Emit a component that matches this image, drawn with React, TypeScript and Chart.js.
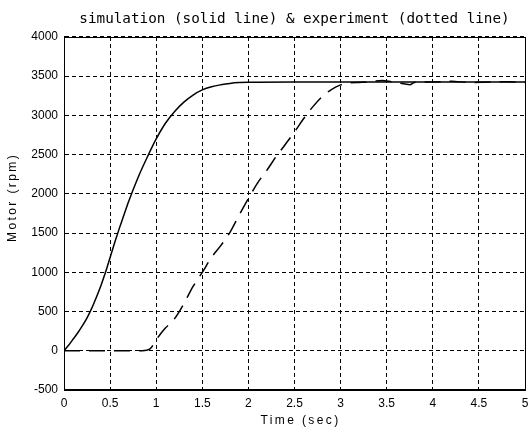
import React, { useEffect, useRef } from "react";
import { Chart, registerables } from "chart.js";

Chart.register(...registerables);

// ---- data ----
const simTime = [0, 0.05, 0.1, 0.15, 0.2, 0.25, 0.3, 0.35, 0.4, 0.45, 0.5, 0.55, 0.6, 0.65, 0.7, 0.8, 0.9, 1.0, 1.1, 1.2, 1.3, 1.4, 1.5, 1.6, 1.7, 1.8, 1.9, 2.0, 2.5, 3.0, 3.5, 4.0, 4.5, 5.0];
const simRpm = [0, 70, 150, 230, 320, 420, 540, 680, 830, 1000, 1190, 1380, 1560, 1730, 1900, 2200, 2460, 2700, 2900, 3050, 3170, 3260, 3325, 3365, 3390, 3408, 3418, 3422, 3425, 3425, 3425, 3425, 3425, 3425];

const expTime = [0, 0.85, 0.93, 1.0, 1.05, 1.1, 1.2, 1.3, 1.4, 1.5, 1.6, 1.7, 1.8, 1.9, 2.0, 2.1, 2.2, 2.3, 2.4, 2.5, 2.6, 2.7, 2.8, 2.9, 3.0, 3.1, 3.2, 3.3, 3.45, 3.55, 3.7, 3.75, 3.8, 3.9, 4.0, 4.2, 4.4, 4.6, 4.8, 5.0];
const expRpm = [0, 0, 20, 140, 220, 290, 410, 600, 820, 1000, 1190, 1340, 1510, 1730, 1940, 2140, 2300, 2474, 2630, 2790, 2960, 3112, 3240, 3330, 3389, 3415, 3420, 3425, 3445, 3430, 3400, 3390, 3420, 3425, 3425, 3435, 3420, 3425, 3430, 3420];

const xTickValues = [0, 0.5, 1, 1.5, 2, 2.5, 3, 3.5, 4, 4.5, 5];
const yTickValues = [-500, 0, 500, 1000, 1500, 2000, 2500, 3000, 3500, 4000];

const titleText = "simulation (solid line) & experiment (dotted line)";
const xTitleText = "Time (sec)";
const yTitleText = "Motor (rpm)";

const SANS = "'Liberation Sans', Arial, sans-serif";

const boxPlugin = {
  id: "boxFrame",
  afterDraw(chart: any) {
    const { ctx, chartArea } = chart;
    const l = Math.round(chartArea.left) + 0.5;
    const r = Math.round(chartArea.right) + 0.5;
    const t = Math.round(chartArea.top) + 0.5;
    const b = Math.round(chartArea.bottom) + 0.5;
    ctx.save();
    ctx.setLineDash([]);
    ctx.strokeStyle = "#000";
    ctx.lineWidth = 1;
    ctx.strokeRect(l, t, r - l, b - t);
    ctx.restore();
  },
};

const axisTitlePlugin = {
  id: "axisTitles",
  afterDraw(chart: any) {
    const { ctx, chartArea } = chart;
    ctx.save();
    ctx.fillStyle = "#000";
    ctx.font = "12px " + SANS;
    (ctx as any).letterSpacing = "2.4px";
    ctx.textAlign = "center";
    ctx.textBaseline = "middle";
    const cx = (chartArea.left + chartArea.right) / 2 + 6;
    ctx.fillText(xTitleText, cx, chartArea.bottom + 31);
    ctx.translate(13, (chartArea.top + chartArea.bottom) / 2 - 16);
    ctx.rotate(-Math.PI / 2);
    ctx.fillText(yTitleText, 0, 0);
    ctx.restore();
  },
};

export default function App() {
  const ref = useRef<HTMLCanvasElement | null>(null);

  useEffect(() => {
    document.body.style.margin = "0";
    const canvas = ref.current;
    if (!canvas) return;
    const chart = new Chart(canvas, {
      type: "line",
      data: {
        datasets: [
          {
            label: "simulation",
            data: simTime.map((t, i) => ({ x: t, y: simRpm[i] })),
            borderColor: "#000",
            borderWidth: 1.5,
            pointRadius: 0,
            cubicInterpolationMode: "monotone",
            fill: false,
          },
          {
            label: "experiment",
            data: expTime.map((t, i) => ({ x: t, y: expRpm[i] })),
            borderColor: "#000",
            borderWidth: 1.5,
            borderDash: [16, 9],
            pointRadius: 0,
            cubicInterpolationMode: "monotone",
            fill: false,
          },
        ],
      },
      options: {
        animation: false,
        responsive: false,
        maintainAspectRatio: false,
        layout: { autoPadding: false, padding: { left: 0, right: 3, top: 0, bottom: 0 } },
        plugins: {
          legend: { display: false },
          tooltip: { enabled: false },
          title: {
            display: true,
            text: titleText,
            fullSize: false,
            color: "#000",
            font: { family: "'DejaVu Sans Mono', monospace", size: 14.3, weight: "normal", lineHeight: 1.2 },
            padding: { top: 11, bottom: 8.8 },
          },
        },
        scales: {
          x: {
            type: "linear",
            min: 0,
            max: 5,
            afterBuildTicks: (scale: any) => {
              scale.ticks = xTickValues.map((v) => ({ value: v }));
            },
            afterFit: (scale: any) => {
              scale.height = 42;
              scale.paddingLeft = 0;
              scale.paddingRight = 0;
            },
            ticks: {
              color: "#000",
              font: { family: SANS, size: 12 },
              padding: 6,
              maxRotation: 0,
              autoSkip: false,
              callback: (v: any) => String(v),
            },
            grid: { color: "#000", lineWidth: 1, drawTicks: false },
            border: { display: true, color: "#000", width: 1, dash: [4, 3] },
          },
          y: {
            type: "linear",
            min: -500,
            max: 4000,
            afterBuildTicks: (scale: any) => {
              scale.ticks = yTickValues.map((v) => ({ value: v }));
            },
            afterFit: (scale: any) => {
              scale.width = 64;
              scale.paddingTop = 0;
              scale.paddingBottom = 0;
            },
            ticks: {
              color: "#000",
              font: { family: SANS, size: 12 },
              padding: 6,
              autoSkip: false,
              callback: (v: any) => String(v),
            },
            grid: { color: "#000", lineWidth: 1, drawTicks: false },
            border: { display: true, color: "#000", width: 1, dash: [4, 3] },
          },
        },
      },
      plugins: [boxPlugin, axisTitlePlugin],
    } as any);
    return () => chart.destroy();
  }, []);

  return (
    <div style={{ width: 528, height: 432, background: "#fff" }}>
      <canvas ref={ref} width={528} height={432} style={{ display: "block" }} />
    </div>
  );
}
